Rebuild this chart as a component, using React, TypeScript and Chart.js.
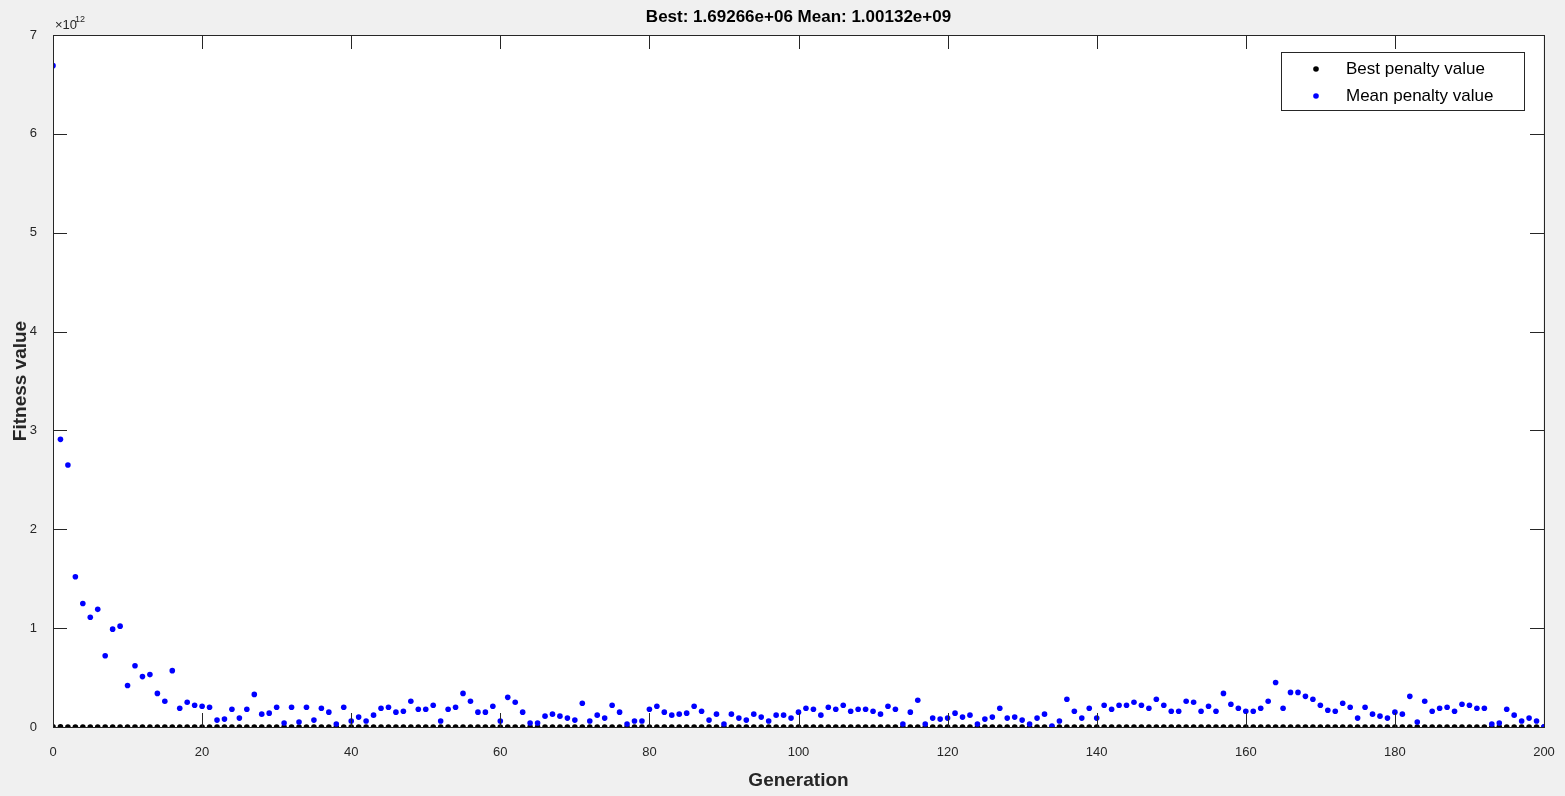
import React, { useEffect, useRef } from "react";
import { Chart, registerables } from "chart.js";
Chart.register(...registerables);

const titleText = "Best: 1.69266e+06 Mean: 1.00132e+09";
const xLabel = "Generation";
const yLabel = "Fitness value";
const legendLabels = ["Best penalty value", "Mean penalty value"];
const xTicks = [0, 20, 40, 60, 80, 100, 120, 140, 160, 180, 200];
const yTicks = [0, 1, 2, 3, 4, 5, 6, 7];

// Mean penalty value (units of 1e12), generations 0..200
const meanValues = [
  6.69, 2.91, 2.65, 1.52, 1.25, 1.11, 1.19, 0.72, 0.99, 1.02,
  0.42, 0.62, 0.51, 0.53, 0.34, 0.26, 0.57, 0.19, 0.25, 0.22,
  0.21, 0.20, 0.07, 0.08, 0.18, 0.09, 0.18, 0.33, 0.13, 0.14,
  0.20, 0.04, 0.20, 0.05, 0.20, 0.07, 0.19, 0.15, 0.03, 0.20,
  0.06, 0.10, 0.06, 0.12, 0.19, 0.20, 0.15, 0.16, 0.26, 0.18,
  0.18, 0.22, 0.06, 0.18, 0.20, 0.34, 0.26, 0.15, 0.15, 0.21,
  0.06, 0.30, 0.25, 0.15, 0.04, 0.04, 0.11, 0.13, 0.11, 0.09,
  0.07, 0.24, 0.06, 0.12, 0.09, 0.22, 0.15, 0.03, 0.06, 0.06,
  0.18, 0.21, 0.15, 0.12, 0.13, 0.14, 0.21, 0.16, 0.07, 0.13,
  0.03, 0.13, 0.09, 0.07, 0.13, 0.10, 0.06, 0.12, 0.12, 0.09,
  0.15, 0.19, 0.18, 0.12, 0.20, 0.18, 0.22, 0.16, 0.18, 0.18,
  0.16, 0.13, 0.21, 0.18, 0.03, 0.15, 0.27, 0.03, 0.09, 0.08,
  0.09, 0.14, 0.10, 0.12, 0.03, 0.08, 0.10, 0.19, 0.09, 0.10,
  0.07, 0.03, 0.09, 0.13, 0.01, 0.06, 0.28, 0.16, 0.09, 0.19,
  0.09, 0.22, 0.18, 0.22, 0.22, 0.25, 0.22, 0.19, 0.28, 0.22,
  0.16, 0.16, 0.26, 0.25, 0.16, 0.21, 0.16, 0.34, 0.23, 0.19,
  0.16, 0.16, 0.19, 0.26, 0.45, 0.19, 0.35, 0.35, 0.31, 0.28,
  0.22, 0.17, 0.16, 0.24, 0.20, 0.09, 0.20, 0.13, 0.11, 0.09,
  0.15, 0.13, 0.31, 0.05, 0.26, 0.16, 0.19, 0.20, 0.16, 0.23,
  0.22, 0.19, 0.19, 0.03, 0.04, 0.18, 0.12, 0.06, 0.09, 0.06,
  0.0017,
];

// Best penalty value (units of 1e12): visually zero throughout
const bestValues = [
  0.001, 0.0008, 0.0006, 0.0005, 0.0004, 0.0003, 0.0003, 0.0002, 0.0002, 0.0002,
  0.0001, 0.0001, 0.0001, 0.0001, 0.0001, 0.0001, 0.0001, 0.0001, 0.0001, 0.0001,
  0.00005, 0.00005, 0.00005, 0.00005, 0.00005, 0.00005, 0.00005, 0.00005, 0.00005, 0.00005,
  0.00003, 0.00003, 0.00003, 0.00003, 0.00003, 0.00003, 0.00003, 0.00003, 0.00003, 0.00003,
  0.00002, 0.00002, 0.00002, 0.00002, 0.00002, 0.00002, 0.00002, 0.00002, 0.00002, 0.00002,
  0.00001, 0.00001, 0.00001, 0.00001, 0.00001, 0.00001, 0.00001, 0.00001, 0.00001, 0.00001,
  0.00001, 0.00001, 0.00001, 0.00001, 0.00001, 0.00001, 0.00001, 0.00001, 0.00001, 0.00001,
  0.000005, 0.000005, 0.000005, 0.000005, 0.000005, 0.000005, 0.000005, 0.000005, 0.000005, 0.000005,
  0.000005, 0.000005, 0.000005, 0.000005, 0.000005, 0.000005, 0.000005, 0.000005, 0.000005, 0.000005,
  0.000003, 0.000003, 0.000003, 0.000003, 0.000003, 0.000003, 0.000003, 0.000003, 0.000003, 0.000003,
  0.000003, 0.000003, 0.000003, 0.000003, 0.000003, 0.000003, 0.000003, 0.000003, 0.000003, 0.000003,
  0.000002, 0.000002, 0.000002, 0.000002, 0.000002, 0.000002, 0.000002, 0.000002, 0.000002, 0.000002,
  0.000002, 0.000002, 0.000002, 0.000002, 0.000002, 0.000002, 0.000002, 0.000002, 0.000002, 0.000002,
  0.000002, 0.000002, 0.000002, 0.000002, 0.000002, 0.000002, 0.000002, 0.000002, 0.000002, 0.000002,
  0.0000017, 0.0000017, 0.0000017, 0.0000017, 0.0000017, 0.0000017, 0.0000017, 0.0000017, 0.0000017, 0.0000017,
  0.0000017, 0.0000017, 0.0000017, 0.0000017, 0.0000017, 0.0000017, 0.0000017, 0.0000017, 0.0000017, 0.0000017,
  0.0000017, 0.0000017, 0.0000017, 0.0000017, 0.0000017, 0.0000017, 0.0000017, 0.0000017, 0.0000017, 0.0000017,
  0.0000017, 0.0000017, 0.0000017, 0.0000017, 0.0000017, 0.0000017, 0.0000017, 0.0000017, 0.0000017, 0.0000017,
  0.0000017, 0.0000017, 0.0000017, 0.0000017, 0.0000017, 0.0000017, 0.0000017, 0.0000017, 0.0000017, 0.0000017,
  0.0000017, 0.0000017, 0.0000017, 0.0000017, 0.0000017, 0.0000017, 0.0000017, 0.0000017, 0.0000017, 0.0000017,
  0.0000017,
];

const AX = "#262626";
const FONT = "Arial, 'Liberation Sans', sans-serif";

export default function App() {
  const ref = useRef<HTMLCanvasElement>(null);
  useEffect(() => {
    const deco = {
      id: "deco",
      afterDatasetsDraw(chart: any) {
        const { ctx, chartArea: a, scales } = chart;
        ctx.save();
        ctx.strokeStyle = AX;
        ctx.lineWidth = 1;
        ctx.strokeRect(a.left + 0.5, a.top + 0.5, a.right - a.left, a.bottom - a.top);
        const tl = 14;
        ctx.beginPath();
        xTicks.forEach((t) => {
          const x = Math.round(scales.x.getPixelForValue(t)) + 0.5;
          ctx.moveTo(x, a.bottom); ctx.lineTo(x, a.bottom - tl);
          ctx.moveTo(x, a.top); ctx.lineTo(x, a.top + tl);
        });
        yTicks.forEach((t) => {
          const y = Math.round(scales.y.getPixelForValue(t)) + 0.5;
          ctx.moveTo(a.left, y); ctx.lineTo(a.left + tl, y);
          ctx.moveTo(a.right, y); ctx.lineTo(a.right - tl, y);
        });
        ctx.stroke();
        ctx.fillStyle = "#000";
        ctx.font = `bold 17px ${FONT}`;
        ctx.textAlign = "center";
        ctx.textBaseline = "middle";
        ctx.fillText(titleText, (a.left + a.right) / 2, 17);
        ctx.fillStyle = AX;
        ctx.font = `bold 19px ${FONT}`;
        ctx.fillText(xLabel, (a.left + a.right) / 2, 781);
        ctx.save();
        ctx.translate(21, (a.top + a.bottom) / 2);
        ctx.rotate(-Math.PI / 2);
        ctx.fillText(yLabel, 0, 0);
        ctx.restore();
        ctx.textAlign = "left";
        ctx.font = `13px ${FONT}`;
        ctx.fillText("\u00d710", 55, 25);
        ctx.font = `9px ${FONT}`;
        ctx.fillText("12", 75, 20);
        // legend
        const lx = 1281, ly = 52, lw = 243, lh = 58;
        ctx.fillStyle = "#fff";
        ctx.fillRect(lx, ly, lw, lh);
        ctx.strokeStyle = AX;
        ctx.strokeRect(lx + 0.5, ly + 0.5, lw, lh);
        const cols = ["#000", "#0000ff"];
        legendLabels.forEach((s, i) => {
          const y = 69 + i * 27;
          ctx.fillStyle = cols[i];
          ctx.beginPath();
          ctx.arc(1316, y, 2.8, 0, Math.PI * 2);
          ctx.fill();
          ctx.fillStyle = "#000";
          ctx.font = `17px ${FONT}`;
          ctx.textBaseline = "middle";
          ctx.fillText(s, 1346, y);
        });
        ctx.restore();
      },
    };
    const chart = new Chart(ref.current!, {
      type: "scatter",
      data: {
        datasets: [
          {
            label: legendLabels[1],
            data: meanValues.map((v, i) => ({ x: i, y: v })),
            backgroundColor: "#0000ff",
            borderColor: "#0000ff",
            pointRadius: 2.8,
            pointBorderWidth: 0,
          },
          {
            label: legendLabels[0],
            data: bestValues.map((v, i) => ({ x: i, y: v })),
            backgroundColor: "#000",
            borderColor: "#000",
            pointRadius: 2.8,
            pointBorderWidth: 0,
          },
        ],
      },
      plugins: [deco],
      options: {
        animation: false,
        responsive: false,
        devicePixelRatio: 1,
        layout: { padding: { top: 35, right: 21, left: 0, bottom: 0 } },
        plugins: { legend: { display: false }, tooltip: { enabled: false } },
        scales: {
          x: {
            type: "linear", min: 0, max: 200,
            afterFit: (s: any) => { s.height = 69; },
            afterBuildTicks: (s: any) => { s.ticks = xTicks.map((v) => ({ value: v })); },
            grid: { display: false },
            border: { display: false },
            ticks: { color: AX, font: { size: 13, family: FONT }, padding: 10, maxRotation: 0 },
          },
          y: {
            type: "linear", min: 0, max: 7,
            afterFit: (s: any) => { s.width = 53; },
            afterBuildTicks: (s: any) => { s.ticks = yTicks.map((v) => ({ value: v })); },
            grid: { display: false },
            border: { display: false },
            ticks: { color: AX, font: { size: 13, family: FONT }, padding: 8 },
          },
        },
      },
    });
    return () => chart.destroy();
  }, []);
  return (
    <div style={{ position: "fixed", left: 0, top: 0, width: 1565, height: 796, background: "#f0f0f0" }}>
      <div style={{ position: "absolute", left: 53, top: 35, width: 1490, height: 692, background: "#fff" }} />
      <canvas ref={ref} width={1565} height={796} style={{ position: "absolute", left: 0, top: 0 }} />
    </div>
  );
}
